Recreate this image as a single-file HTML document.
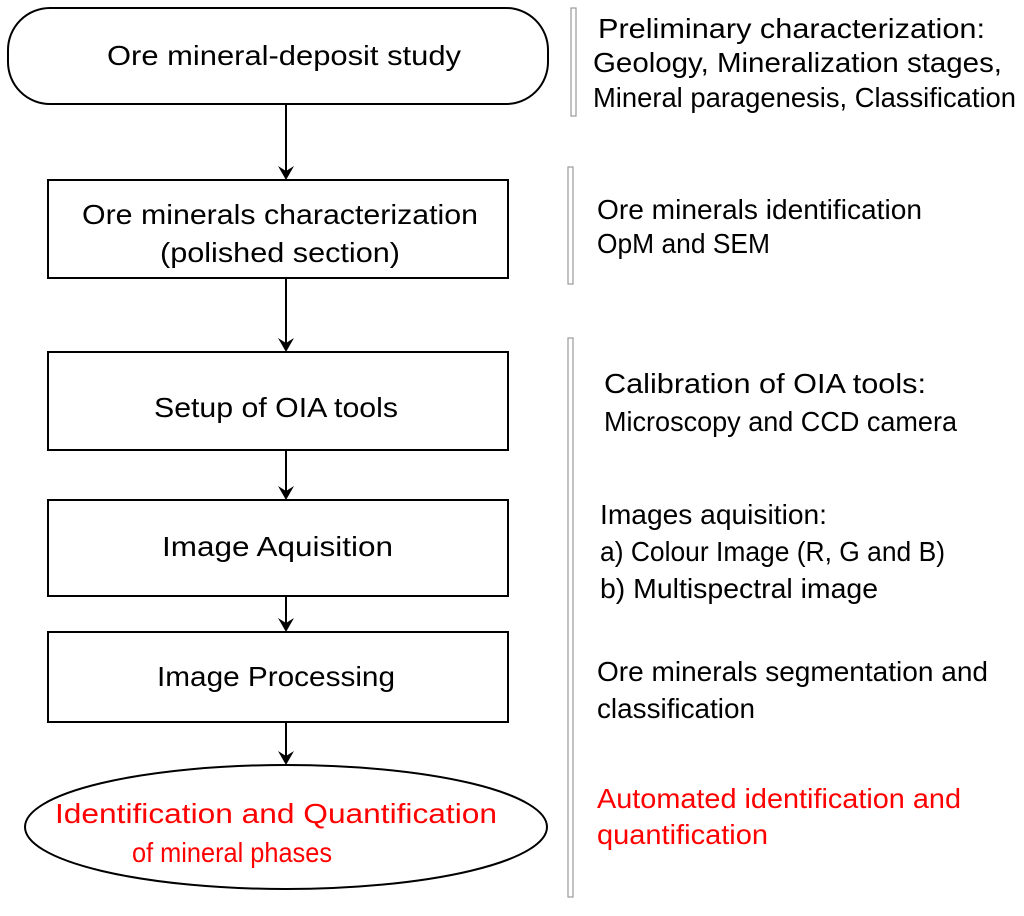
<!DOCTYPE html>
<html><head><style>
body{margin:0;background:#fff;}
svg text{font-family:"Liberation Sans",sans-serif;font-size:28px;}
</style></head><body>
<svg width="1024" height="911" viewBox="0 0 1024 911" xmlns="http://www.w3.org/2000/svg">
<g fill="none" stroke="#000" stroke-width="2">
<rect x="8" y="8" width="540" height="96" rx="42"/>
<rect x="48" y="180" width="460" height="98"/>
<rect x="48" y="352" width="460" height="98"/>
<rect x="48" y="500" width="460" height="96"/>
<rect x="48" y="632" width="460" height="90"/>
<ellipse cx="286" cy="827" rx="261" ry="62"/>
<line x1="286" y1="104" x2="286" y2="172"/>
<line x1="286" y1="278" x2="286" y2="344"/>
<line x1="286" y1="450" x2="286" y2="492"/>
<line x1="286" y1="596" x2="286" y2="624"/>
<line x1="286" y1="722" x2="286" y2="757"/>
</g>
<g fill="#000">
<path d="M278,166 L286,180 L294,166 L286,171Z"/>
<path d="M278,338 L286,352 L294,338 L286,343Z"/>
<path d="M278,486 L286,500 L294,486 L286,491Z"/>
<path d="M278,618 L286,632 L294,618 L286,623Z"/>
<path d="M278,751 L286,765 L294,751 L286,756Z"/>
</g>
<g fill="none" stroke="#999" stroke-width="1.2">
<rect x="571" y="8" width="5" height="108"/>
<rect x="568" y="167" width="5" height="117"/>
<rect x="568" y="338" width="5" height="559"/>
</g>
<g fill="#000" lengthAdjust="spacingAndGlyphs">
<text x="107" y="65" textLength="354" lengthAdjust="spacingAndGlyphs">Ore mineral-deposit study</text>
<text x="82" y="224" textLength="396" lengthAdjust="spacingAndGlyphs">Ore minerals characterization</text>
<text x="160" y="262" textLength="240" lengthAdjust="spacingAndGlyphs">(polished section)</text>
<text x="154" y="417" textLength="244" lengthAdjust="spacingAndGlyphs">Setup of OIA tools</text>
<text x="162" y="556" textLength="231" lengthAdjust="spacingAndGlyphs">Image Aquisition</text>
<text x="157" y="686" textLength="238" lengthAdjust="spacingAndGlyphs">Image Processing</text>
<text x="55" y="823" fill="#f00" textLength="442" lengthAdjust="spacingAndGlyphs">Identification and Quantification</text>
<text x="132" y="862" fill="#f00" textLength="200" lengthAdjust="spacingAndGlyphs">of mineral phases</text>

<text x="598" y="38" textLength="387" lengthAdjust="spacingAndGlyphs">Preliminary characterization:</text>
<text x="593" y="72" textLength="409" lengthAdjust="spacingAndGlyphs">Geology,  Mineralization stages,</text>
<text x="593" y="107" textLength="423" lengthAdjust="spacingAndGlyphs">Mineral paragenesis, Classification</text>
<text x="597" y="219" textLength="325" lengthAdjust="spacingAndGlyphs">Ore minerals identification</text>
<text x="597" y="253" textLength="173" lengthAdjust="spacingAndGlyphs">OpM and SEM</text>
<text x="604" y="393" textLength="322" lengthAdjust="spacingAndGlyphs">Calibration of OIA tools:</text>
<text x="604" y="431" textLength="353" lengthAdjust="spacingAndGlyphs">Microscopy and CCD camera</text>
<text x="600" y="524" textLength="227" lengthAdjust="spacingAndGlyphs">Images aquisition:</text>
<text x="600" y="561" textLength="345" lengthAdjust="spacingAndGlyphs">a) Colour Image (R, G and B)</text>
<text x="600" y="598" textLength="278" lengthAdjust="spacingAndGlyphs">b) Multispectral image</text>
<text x="597" y="681" textLength="391" lengthAdjust="spacingAndGlyphs">Ore minerals segmentation and</text>
<text x="597" y="718" textLength="158" lengthAdjust="spacingAndGlyphs">classification</text>
<text x="597" y="808" fill="#f00" textLength="364" lengthAdjust="spacingAndGlyphs">Automated identification and</text>
<text x="597" y="844" fill="#f00" textLength="171" lengthAdjust="spacingAndGlyphs">quantification</text>
</g>
</svg>
</body></html>
